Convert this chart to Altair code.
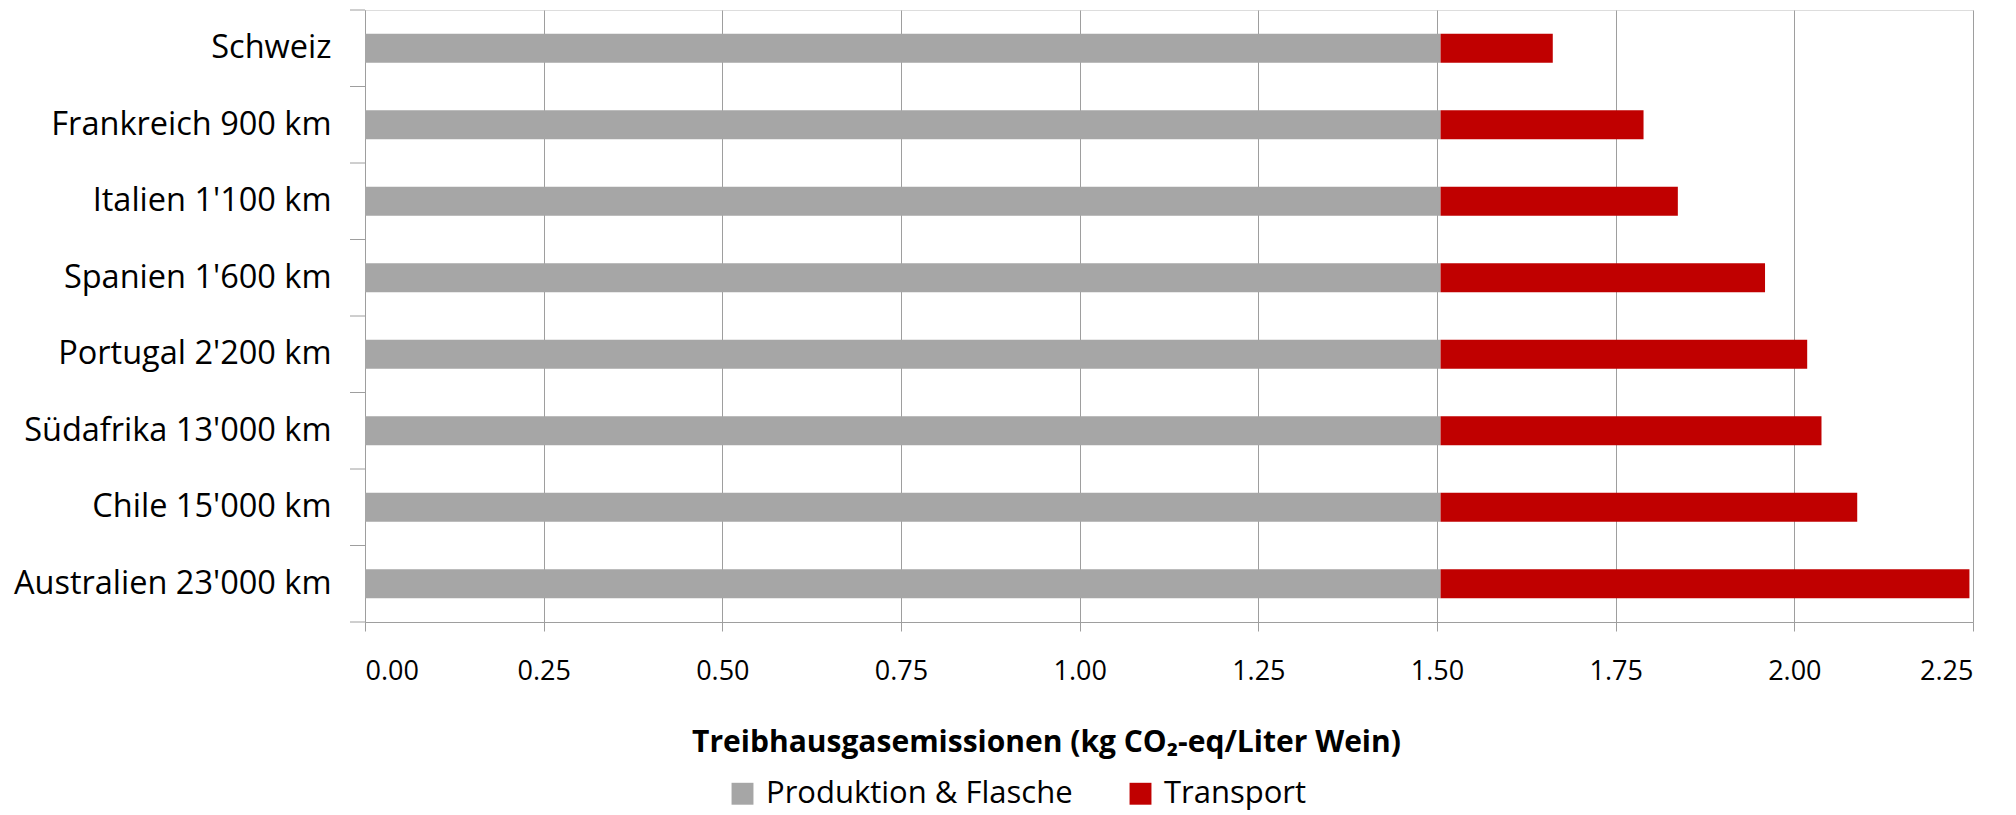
import altair as alt
import pandas as pd

categories = ["Schweiz", "Frankreich 900 km", "Italien 1'100 km", "Spanien 1'600 km",
              "Portugal 2'200 km", "Südafrika 13'000 km", "Chile 15'000 km", "Australien 23'000 km"]
production = [1.505, 1.505, 1.505, 1.505, 1.505, 1.505, 1.505, 1.505]
transport = [0.157, 0.284, 0.332, 0.454, 0.513, 0.533, 0.583, 0.740]
series_names = ["Produktion & Flasche", "Transport"]
colors = ["#A6A6A6", "#C00000"]
x_ticks = [0.0, 0.25, 0.5, 0.75, 1.0, 1.25, 1.5, 1.75, 2.0, 2.25]
x_title = "Treibhausgasemissionen (kg CO₂-eq/Liter Wein)"

rows = []
for c, p, t in zip(categories, production, transport):
    rows.append({"cat": c, "series": series_names[0], "value": p, "ord": 0})
    rows.append({"cat": c, "series": series_names[1], "value": t, "ord": 1})
df = pd.DataFrame(rows)
cat_df = pd.DataFrame({"cat": categories})
last_df = pd.DataFrame({"cat": categories[-1:]})

FONT = "Open Sans"
GRID = "#9E9E9E"
H = 612
STEP = H / len(categories)
PAD_IN = 0.62
EDGE_OFF = STEP * PAD_IN / 2

yscale = alt.Scale(paddingInner=PAD_IN, paddingOuter=PAD_IN / 2)
y_axis = alt.Axis(title=None, ticks=False, labelPadding=34, labelFontSize=32.5,
                  labelFont=FONT, labelColor="#000000", domainColor=GRID,
                  labelAlign="right", labelLimit=600)

bars = alt.Chart(df).mark_bar().encode(
    y=alt.Y("cat:N", sort=categories, scale=yscale, axis=y_axis),
    x=alt.X("value:Q", stack="zero",
            scale=alt.Scale(domain=[0, 2.25], nice=False, zero=True),
            axis=alt.Axis(values=x_ticks, format=".2f", title=x_title,
                          labelFont=FONT, labelFontSize=27, labelColor="#000000",
                          labelPadding=27, tickSize=9, tickColor=GRID, domainColor=GRID,
                          gridColor=GRID, grid=True,
                          titleFont=FONT, titleFontSize=30, titleFontWeight="bold",
                          titleColor="#000000", titleX=681, titleY=120,
                          titleAlign="center", titleBaseline="middle")),
    color=alt.Color("series:N", scale=alt.Scale(domain=series_names, range=colors),
                    legend=alt.Legend(title=None, orient="none", direction="horizontal",
                                      legendX=362, legendY=768, symbolType="square",
                                      symbolSize=480, symbolStrokeWidth=0,
                                      labelFont=FONT, labelFontSize=31, labelColor="#000000",
                                      labelLimit=600, labelOffset=8, columnPadding=52)),
    order=alt.Order("ord:Q"),
)

ticks_top = alt.Chart(cat_df).mark_rule(color=GRID, strokeWidth=1, yOffset=-EDGE_OFF).encode(
    y=alt.Y("cat:N", sort=categories, bandPosition=0, axis=y_axis),
    x=alt.value(-15), x2=alt.value(0),
)
ticks_bottom = alt.Chart(last_df).mark_rule(color=GRID, strokeWidth=1, yOffset=EDGE_OFF).encode(
    y=alt.Y("cat:N", sort=categories, bandPosition=1, axis=y_axis),
    x=alt.value(-15), x2=alt.value(0),
)

chart = alt.layer(bars, ticks_top, ticks_bottom).properties(
    width=1608, height=H,
    padding={"left": 357, "top": 2, "right": 30, "bottom": 192},
    autosize=alt.AutoSizeParams(type="none"),
).configure_view(stroke=None).configure(background="white")

chart.save("out.html", embed_options={"renderer": "svg", "actions": False})
